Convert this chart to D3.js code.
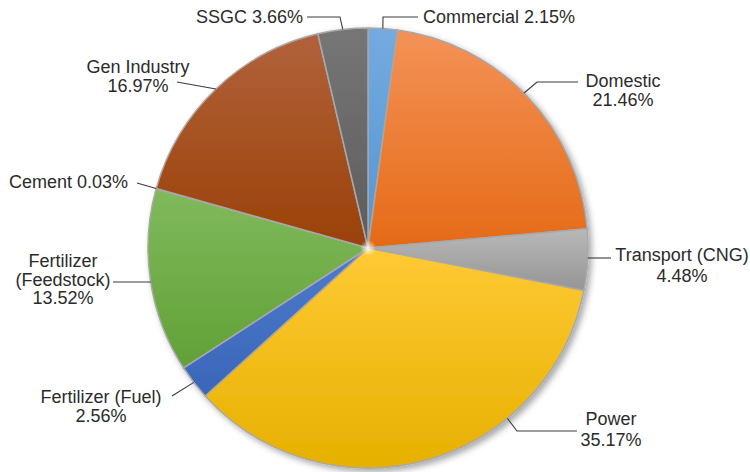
<!DOCTYPE html>
<html>
<head>
<meta charset="UTF-8">
<title>Gas consumption by sector</title>
<script src="https://d3js.org/d3.v7.min.js"></script>
<style>
  body { margin: 0; background: #fff; }
  svg text { font-family: "Liberation Sans", Arial, sans-serif; font-size: 18px; fill: #2b2b2b; }
</style>
</head>
<body>
<div id="chart"></div>
<script>
// data, clockwise from 12 o'clock
const sectors = ['Commercial', 'Domestic', 'Transport (CNG)', 'Power', 'Fertilizer (Fuel)',
                 'Fertilizer (Feedstock)', 'Cement', 'Gen Industry', 'SSGC'];
const shares = [2.15, 21.46, 4.48, 35.17, 2.56, 13.52, 0.03, 16.97, 3.66];

// slice gradients (top -> bottom)
const topColors = ['#74abe0', '#f39257', '#b8b8b8', '#ffca35', '#4d7bcd', '#80ba5c', '#3a5d96', '#b2623c', '#767676'];
const bottomColors = ['#5494d2', '#e56a17', '#959595', '#e6b000', '#3b66b8', '#61a036', '#264478', '#9a4108', '#5c5c5c'];

const W = 750, H = 472;
const cx = 368, cy = 248, R = 220;

// label placement: text position, lines, and leader path after the edge point
const labelLayout = [
  { x: 423, y: 23, anchor: 'start', split: 'one', leader: [[383, 17], [418, 17]] },
  { x: 623, y: 87, anchor: 'middle', split: 'two', leader: [[537, 82], [578, 82]], edgeDeg: 45.2 },
  { x: 682, y: 261, anchor: 'middle', split: 'two', gap: 21, leader: [[611, 258]], edgeY: 258 },
  { x: 611, y: 425, anchor: 'middle', split: 'two', gap: 21, leader: [[517, 431], [577, 431]], edgeDeg: 140.7 },
  { x: 101, y: 403, anchor: 'middle', split: 'two', leader: [[172, 396]] },
  { x: 63, y: 267, anchor: 'middle', split: 'three', leader: [[113, 282]], edgeY: 282 },
  { x: 128, y: 188, anchor: 'end', split: 'one', leader: [[137, 183]] },
  { x: 138, y: 73, anchor: 'middle', split: 'two', leader: [[177, 82]] },
  { x: 303, y: 23, anchor: 'end', split: 'one', leader: [[340, 17], [307, 17]] }
];

const svg = d3.select('#chart').append('svg')
  .attr('width', W)
  .attr('height', H);

const defs = svg.append('defs');

const shadow = defs.append('filter')
  .attr('id', 'shadow')
  .attr('x', '-10%').attr('y', '-10%')
  .attr('width', '120%').attr('height', '120%');
shadow.append('feDropShadow')
  .attr('dx', 3).attr('dy', 3)
  .attr('stdDeviation', 3)
  .attr('flood-color', '#000')
  .attr('flood-opacity', 0.35);

shares.forEach((s, i) => {
  const g = defs.append('linearGradient')
    .attr('id', `grad-${i}`)
    .attr('x1', 0).attr('y1', 0)
    .attr('x2', 0).attr('y2', 1);
  g.append('stop').attr('offset', '0%').attr('stop-color', topColors[i]);
  g.append('stop').attr('offset', '100%').attr('stop-color', bottomColors[i]);
});

const pie = d3.pie().sort(null).value(d => d);
const arcs = pie(shares);

const arc = d3.arc()
  .innerRadius(0)
  .outerRadius(R);

const pieG = svg.append('g')
  .attr('transform', `translate(${cx}, ${cy})`)
  .attr('filter', 'url(#shadow)');

pieG.selectAll('path.slice')
  .data(arcs)
  .enter()
  .append('path')
  .attr('class', 'slice')
  .attr('d', arc)
  .attr('fill', (d, i) => `url(#grad-${i})`)
  .attr('stroke', '#a8a8a8')
  .attr('stroke-width', 1.5)
  .attr('stroke-linejoin', 'round');

// center highlight
const glow = defs.append('radialGradient').attr('id', 'glow');
glow.append('stop').attr('offset', '0%').attr('stop-color', '#fff').attr('stop-opacity', 0.9);
glow.append('stop').attr('offset', '100%').attr('stop-color', '#fff').attr('stop-opacity', 0);
svg.append('circle')
  .attr('cx', cx).attr('cy', cy).attr('r', 8)
  .attr('fill', 'url(#glow)');

function edgePoint(d, lay) {
  if (lay.edgeY !== undefined) {
    const dy = lay.edgeY - cy;
    const dx = Math.sqrt(R * R - dy * dy);
    const mid = (d.startAngle + d.endAngle) / 2;
    return [cx + (Math.sin(mid) >= 0 ? dx : -dx), lay.edgeY];
  }
  const a = lay.edgeDeg !== undefined ? lay.edgeDeg * Math.PI / 180 : (d.startAngle + d.endAngle) / 2;
  return [cx + R * Math.sin(a), cy - R * Math.cos(a)];
}

function labelLines(i, split) {
  const pct = shares[i].toFixed(2) + '%';
  const name = sectors[i];
  if (split === 'one') return [name + ' ' + pct];
  if (split === 'three') {
    const k = name.indexOf(' (');
    return [name.slice(0, k), name.slice(k + 1), pct];
  }
  return [name, pct];
}

const labels = svg.append('g');

arcs.forEach((d, i) => {
  const lay = labelLayout[i];
  const pts = [edgePoint(d, lay)].concat(lay.leader);
  labels.append('path')
    .attr('d', d3.line()(pts))
    .attr('fill', 'none')
    .attr('stroke', '#3a3a3a')
    .attr('stroke-width', 1.1);

  const t = labels.append('text')
    .attr('text-anchor', lay.anchor);
  const gap = lay.gap || 18.5;
  labelLines(i, lay.split).forEach((line, j) => {
    t.append('tspan')
      .attr('x', lay.x)
      .attr('y', lay.y + j * gap)
      .text(line);
  });
});
</script>
</body>
</html>
